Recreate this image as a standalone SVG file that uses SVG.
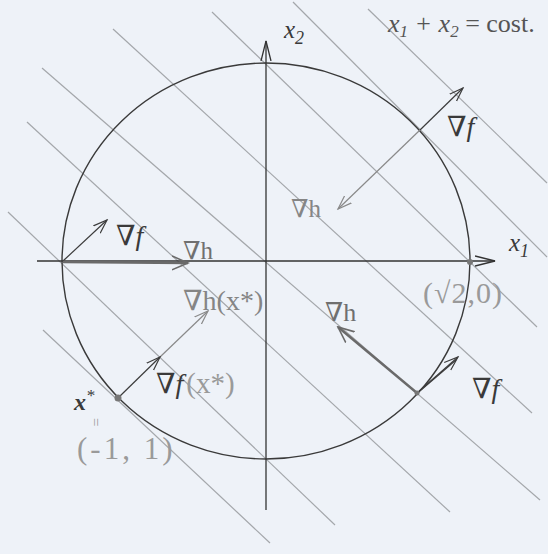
<svg xmlns="http://www.w3.org/2000/svg" width="548" height="554" viewBox="0 0 548 554">
<style>
.lvl{stroke:#a4a7ab;stroke-width:1.2;fill:none}
.ax{stroke:#333;stroke-width:1.3;fill:none}
.circ{stroke:#3a3a3a;stroke-width:1.4;fill:none}
.vd{stroke:#3c3c3c;stroke-width:1.2;fill:none}
.vg{stroke:#8a8a8a;stroke-width:1.2;fill:none}
.vt{stroke:#6a6a6a;stroke-width:2.4;fill:none}
text{font-family:"Liberation Serif","DejaVu Serif",serif}
.dk{fill:#3a3a3a}
.gr{fill:#858585}
.lg{fill:#9a9a9a}
</style>
<defs>
<marker id="axh" markerUnits="userSpaceOnUse" markerWidth="22" markerHeight="12" refX="20" refY="6" orient="auto"><path d="M0,1 L20,6 L0,11" fill="none" stroke="#333" stroke-width="1.3"/></marker>
<marker id="hd" markerUnits="userSpaceOnUse" markerWidth="16" markerHeight="12" refX="14" refY="6" orient="auto"><path d="M0,1 L14,6 L0,11" fill="none" stroke="#3c3c3c" stroke-width="1.2"/></marker>
<marker id="hg" markerUnits="userSpaceOnUse" markerWidth="16" markerHeight="12" refX="14" refY="6" orient="auto"><path d="M0,1 L14,6 L0,11" fill="none" stroke="#8a8a8a" stroke-width="1.2"/></marker>
<marker id="ht" markerUnits="userSpaceOnUse" markerWidth="18" markerHeight="16" refX="16" refY="8" orient="auto"><path d="M0,1 L16,8 L0,15" fill="none" stroke="#6a6a6a" stroke-width="1.6"/></marker>
</defs>
<rect x="0" y="0" width="548" height="554" fill="#eef2f8"/>
<g id="level-lines">
<line class="lvl" x1="368" y1="9" x2="547" y2="183"/>
<line class="lvl" x1="293" y1="2" x2="547" y2="257"/>
<line class="lvl" x1="212" y1="12" x2="537" y2="327"/>
<line class="lvl" x1="113" y1="29" x2="532" y2="413"/>
<line class="lvl" x1="42" y1="68" x2="540" y2="500"/>
<line class="lvl" x1="27" y1="122" x2="450" y2="512"/>
<line class="lvl" x1="8" y1="212" x2="335" y2="525"/>
<line class="lvl" x1="43" y1="330" x2="270" y2="543"/>
</g>
<g id="constraint-circle">
<ellipse class="circ" cx="266" cy="261" rx="204" ry="198"/>
</g>
<g id="axes">
<line class="ax" x1="37" y1="261" x2="495" y2="261" marker-end="url(#axh)"/>
<line class="ax" x1="266" y1="510" x2="266" y2="41" marker-end="url(#axh)"/>
<text x="284" y="38" font-size="25" font-style="italic" class="dk">x<tspan font-size="18" dy="6">2</tspan></text>
<text x="509" y="251" font-size="25" font-style="italic" class="dk">x<tspan font-size="18" dy="6">1</tspan></text>
<text x="388" y="32" font-size="26" font-style="italic" fill="#555">x<tspan font-size="17" dy="5">1</tspan><tspan dy="-5"> + x</tspan><tspan font-size="17" dy="5">2</tspan><tspan dy="-5" font-style="normal"> = cost.</tspan></text>
</g>
<g id="connectors">
<line class="vg" x1="420" y1="130" x2="338" y2="209" marker-end="url(#hg)"/>
<line class="vd" x1="420" y1="130" x2="463" y2="88" marker-end="url(#hd)"/>
<line class="vd" x1="63" y1="261" x2="107" y2="220" marker-end="url(#hd)"/>
<line class="vt" x1="63" y1="262" x2="188" y2="263" marker-end="url(#ht)"/>
<line class="vg" x1="160" y1="357" x2="208" y2="311" marker-end="url(#hg)"/>
<line class="vd" x1="118" y1="398" x2="160" y2="357" marker-end="url(#hd)"/>
<line class="vt" x1="417" y1="393" x2="338" y2="327" marker-end="url(#ht)"/>
<line class="vd" x1="417" y1="393" x2="458" y2="357" marker-end="url(#hd)"/>
<line class="vd" x1="421" y1="390" x2="456" y2="360"/>
</g>
<g id="point-top-right">
<text x="447" y="136" font-size="28" class="dk">∇<tspan font-style="italic">f</tspan></text>
<text x="291" y="217" font-size="25" class="gr">∇h</text>
</g>
<g id="point-left">
<text x="116" y="245" font-size="28" class="dk">∇<tspan font-style="italic">f</tspan></text>
<text x="183" y="259" font-size="25" fill="#707070">∇h</text>
</g>
<g id="point-xstar">
<circle cx="118" cy="398" r="3.5" fill="#777"/>
<text x="183" y="310" font-size="28" class="gr">∇h(x*)</text>
<text x="156" y="393" font-size="28" class="dk">∇<tspan font-style="italic">f</tspan><tspan class="lg" font-size="29" dx="3">(x*)</tspan></text>
<text x="74" y="410" font-size="24" font-style="italic" font-weight="bold" class="dk">x<tspan font-size="17" dy="-9" font-weight="normal">*</tspan></text>
<text x="0" y="0" font-size="15" class="lg" transform="translate(91,418) rotate(90)">=</text>
<text x="77" y="459" font-size="31" class="lg" letter-spacing="3">(-1, 1)</text>
</g>
<g id="point-sqrt2">
<circle cx="470" cy="262" r="3" fill="#777"/>
<text x="423" y="303" font-size="30" class="lg" letter-spacing="1">(√2,0)</text>
</g>
<g id="point-lower-right">
<circle cx="417" cy="393" r="2.5" fill="#777"/>
<text x="325" y="321" font-size="26" fill="#6f6f6f">∇h</text>
<text x="472" y="398" font-size="28" class="dk">∇<tspan font-style="italic">f</tspan></text>
</g>
</svg>
